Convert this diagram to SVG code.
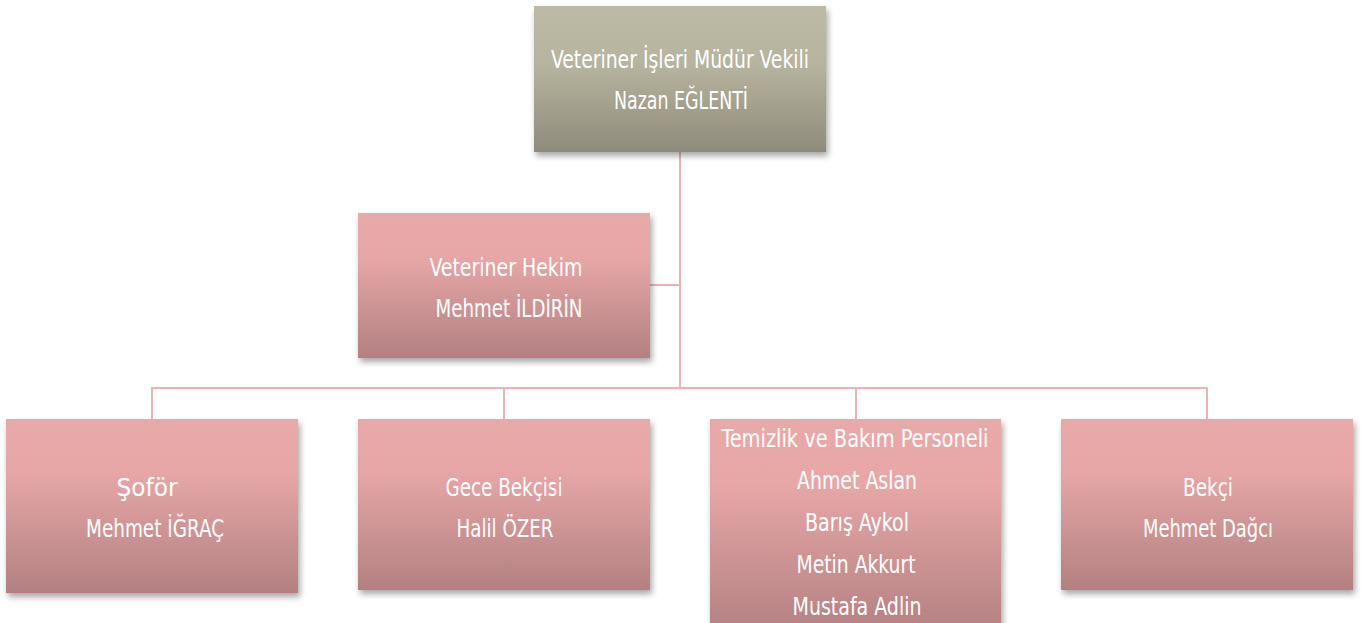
<svg xmlns="http://www.w3.org/2000/svg" width="1363" height="623" viewBox="0 0 1363 623">
<defs>
<linearGradient id="gTop" x1="0" y1="0" x2="0" y2="1">
<stop offset="0" stop-color="#bdbaa5"/>
<stop offset="0.4" stop-color="#b6b39e"/>
<stop offset="1" stop-color="#8f8b7b"/>
</linearGradient>
<linearGradient id="gPink" x1="0" y1="0" x2="0" y2="1">
<stop offset="0" stop-color="#e8a9a9"/>
<stop offset="0.3" stop-color="#e7a7a7"/>
<stop offset="1" stop-color="#b38081"/>
</linearGradient>
<filter id="sh" x="-10%" y="-10%" width="125%" height="130%">
<feDropShadow dx="2" dy="4" stdDeviation="3" flood-color="#000" flood-opacity="0.35"/>
</filter>
</defs>
<style>
.t{font-family:"DejaVu Sans Condensed","Liberation Sans Narrow","DejaVu Sans",sans-serif;font-stretch:condensed;font-size:24px;fill:#ffffff;text-anchor:middle}
.c{stroke:#e8b4b6;stroke-width:2;fill:none}
.top{fill:url(#gTop);filter:url(#sh)}
.pk{fill:url(#gPink);filter:url(#sh)}
</style>
<rect width="1363" height="623" fill="#ffffff"/>
<g id="connectors">
<path class="c" d="M680 152 V388"/>
<path class="c" d="M650 285 H680"/>
<path class="c" d="M152 419 V388 H1207 V419"/>
<path class="c" d="M504 388 V419"/>
<path class="c" d="M856 388 V419"/>
</g>
<g id="n-mudur">
<rect class="top" x="534" y="6" width="292" height="146"/>
<text class="t" x="680" y="68" textLength="258" lengthAdjust="spacingAndGlyphs">Veteriner İşleri Müdür Vekili</text>
<text class="t" x="681" y="109" textLength="134" lengthAdjust="spacingAndGlyphs">Nazan EĞLENTİ</text>
</g>
<g id="n-hekim">
<rect class="pk" x="358" y="213" width="292" height="145"/>
<text class="t" x="506" y="276" textLength="153" lengthAdjust="spacingAndGlyphs">Veteriner Hekim</text>
<text class="t" x="509" y="317" textLength="147" lengthAdjust="spacingAndGlyphs">Mehmet İLDİRİN</text>
</g>
<g id="n-sofor">
<rect class="pk" x="6" y="419" width="292" height="174"/>
<text class="t" x="147" y="496" textLength="61" lengthAdjust="spacingAndGlyphs">Şoför</text>
<text class="t" x="155" y="537" textLength="138" lengthAdjust="spacingAndGlyphs">Mehmet İĞRAÇ</text>
</g>
<g id="n-gece">
<rect class="pk" x="358" y="419" width="292" height="171"/>
<text class="t" x="504" y="496" textLength="117" lengthAdjust="spacingAndGlyphs">Gece Bekçisi</text>
<text class="t" x="505" y="537" textLength="97" lengthAdjust="spacingAndGlyphs">Halil ÖZER</text>
</g>
<g id="n-temizlik">
<rect class="pk" x="710" y="419" width="291" height="215"/>
<text class="t" x="855" y="447" textLength="267" lengthAdjust="spacingAndGlyphs">Temizlik ve Bakım Personeli</text>
<text class="t" x="857" y="489" textLength="120" lengthAdjust="spacingAndGlyphs">Ahmet Aslan</text>
<text class="t" x="857" y="531" textLength="104" lengthAdjust="spacingAndGlyphs">Barış Aykol</text>
<text class="t" x="856" y="573" textLength="119" lengthAdjust="spacingAndGlyphs">Metin Akkurt</text>
<text class="t" x="857" y="615" textLength="129" lengthAdjust="spacingAndGlyphs">Mustafa Adlin</text>
</g>
<g id="n-bekci">
<rect class="pk" x="1061" y="419" width="292" height="171"/>
<text class="t" x="1208" y="496" textLength="50" lengthAdjust="spacingAndGlyphs">Bekçi</text>
<text class="t" x="1208" y="537" textLength="130" lengthAdjust="spacingAndGlyphs">Mehmet Dağcı</text>
</g>
</svg>
